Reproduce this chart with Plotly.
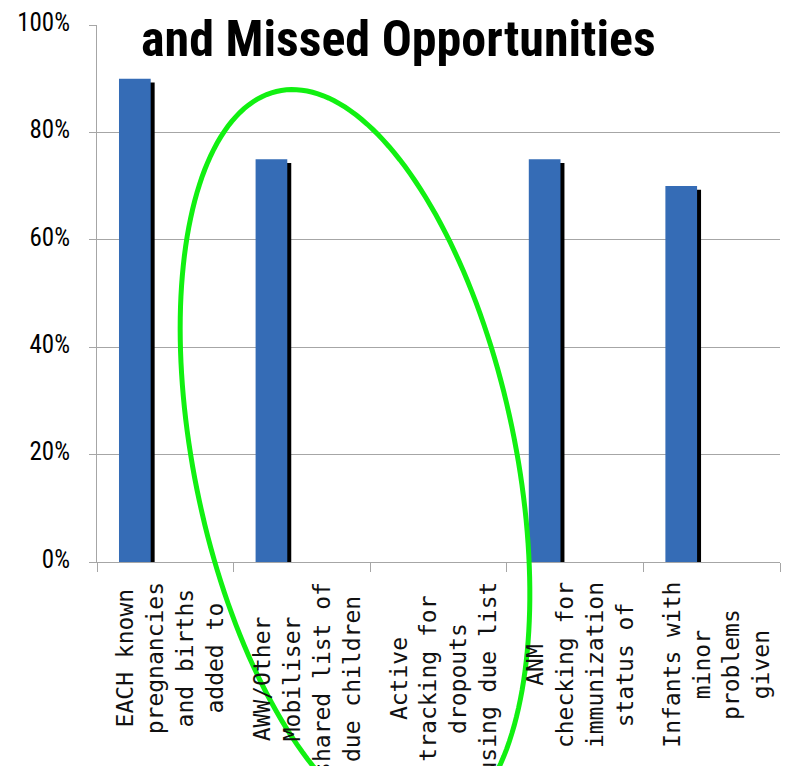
import numpy as np
import plotly.graph_objects as go

# ---- data ----
category_lines = [
    ["EACH known", "pregnancies", "and births", "added to"],
    ["AWW/Other", "Mobiliser", "shared list of", "due children"],
    ["Active", "tracking for", "dropouts", "using due list"],
    ["ANM", "checking for", "immunization", "status of"],
    ["Infants with", "minor", "problems", "given"],
]
categories = [" ".join(l) for l in category_lines]
values = [0.90, 0.75, 0.0, 0.75, 0.70]
title_text = "and Missed Opportunities"
y_ticks = [0, 0.2, 0.4, 0.6, 0.8, 1.0]

# ---- layout constants ----
W, H = 788, 766
ML, MR, MT, MB = 97, 8, 19, 204
PW, PH = W - ML - MR, H - MT - MB
GRAY = "#a6a6a6"
NARROW = "Liberation Sans Narrow, Roboto Condensed, Liberation Sans, Arial"

BAR_W = 0.232
BAR_OFF = -0.339

fig = go.Figure()
# shadow
fig.add_trace(go.Bar(
    x=categories, y=values, base=-0.007, width=BAR_W, offset=BAR_OFF + 0.029,
    marker=dict(color="#000000", line=dict(width=0)), hoverinfo="skip", showlegend=False,
))
fig.add_trace(go.Bar(
    x=categories, y=values, width=BAR_W, offset=BAR_OFF,
    marker=dict(color="#356cb6", line=dict(width=0)), showlegend=False,
))

# category labels (rotated, centered lines)
for cat, lines in zip(categories, category_lines):
    fig.add_annotation(
        x=cat, xref="x", y=0, yref="paper", text="<br>".join(lines),
        textangle=-90, xanchor="center", yanchor="top", align="center",
        showarrow=False, xshift=5, yshift=-18,
        font=dict(family="DejaVu Sans Mono", size=23, color="#111111"),
    )

# title
fig.add_annotation(
    x=(398 - ML) / PW, xref="paper", y=(MT + PH - 33) / PH, yref="paper",
    text="<b>" + title_text + "</b>", showarrow=False,
    xanchor="center", yanchor="middle",
    font=dict(family=NARROW, size=50, color="#000000"),
)

# green ellipse (pixel-space parameters converted to paper coords)
cx, cy, a, b, phi = 355, 460, 382, 160.6, np.deg2rad(78.5)
t = np.linspace(0, 2 * np.pi, 200)
ex = cx + a * np.cos(phi) * np.cos(t) - b * np.sin(phi) * np.sin(t)
ey = cy + a * np.sin(phi) * np.cos(t) + b * np.cos(phi) * np.sin(t)
px = (ex - ML) / PW
py = (MT + PH - ey) / PH
path = "M " + " L ".join(f"{u:.5f},{v:.5f}" for u, v in zip(px, py)) + " Z"
fig.add_shape(type="path", path=path, xref="paper", yref="paper",
              line=dict(color="#11f011", width=5), layer="above")

fig.update_layout(
    width=W, height=H, margin=dict(l=ML, r=MR, t=MT, b=MB),
    paper_bgcolor="white", plot_bgcolor="white", barmode="overlay",
    showlegend=False,
)
fig.update_xaxes(
    type="category", categoryorder="array", categoryarray=categories,
    showticklabels=False, showgrid=False, showline=True, linecolor=GRAY,
    ticks="outside", tickson="boundaries", ticklen=9, tickcolor=GRAY,
    range=[-0.5, len(categories) - 0.5],
)
fig.update_yaxes(
    range=[0, 1], tickvals=y_ticks, tickformat=".0%", showgrid=True,
    gridcolor=GRAY, showline=True, linecolor=GRAY, ticks="outside",
    ticklen=7, tickcolor=GRAY, ticklabelstandoff=14, ticklabelshift=-3,
    tickfont=dict(family=NARROW, size=25, color="#000000"), zeroline=False,
)

fig.write_html("out.html")
